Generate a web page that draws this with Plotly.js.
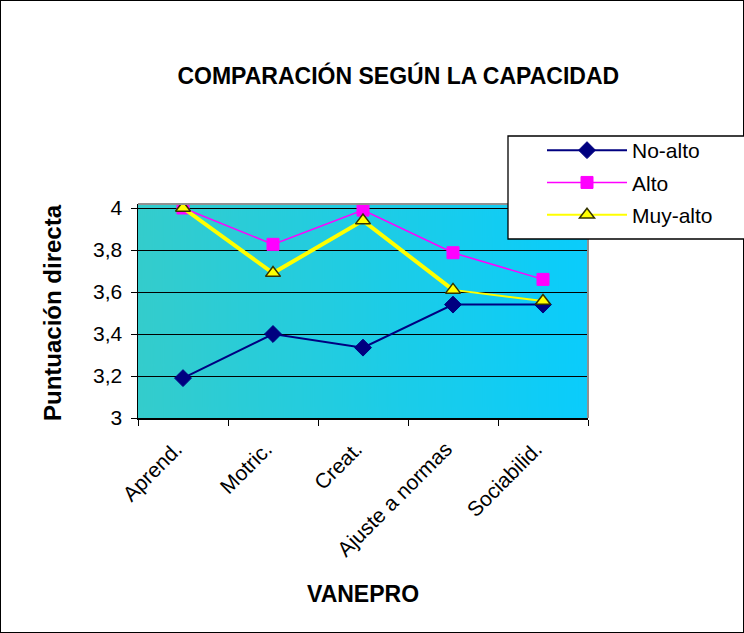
<!DOCTYPE html>
<html>
<head>
<meta charset="utf-8">
<script src="https://cdn.plot.ly/plotly-3.0.1.min.js"></script>
<style>
html,body{margin:0;padding:0;background:#fff;}
#chart{width:744px;height:633px;box-sizing:border-box;border:1px solid #000;}
</style>
</head>
<body>
<div id="chart"></div>
<script>
var categories = ["Aprend.", "Motric.", "Creat.", "Ajuste a normas", "Sociabilid."];
var noAlto   = [3.19, 3.40, 3.335, 3.54, 3.54];
var alto     = [4.00, 3.827, 3.99, 3.787, 3.66];
var muyAlto  = [4.00, 3.69, 3.94, 3.61, 3.557];
var yTickVals = [3, 3.2, 3.4, 3.6, 3.8, 4];
var yTickText = ["3", "3,2", "3,4", "3,6", "3,8", "4"];

// gradient background for plot area
function gradient() {
  var c = document.createElement("canvas");
  c.width = 450; c.height = 10;
  var g = c.getContext("2d");
  var gr = g.createLinearGradient(0, 0, 450, 0);
  gr.addColorStop(0, "rgb(52,204,204)");
  gr.addColorStop(1, "rgb(10,204,252)");
  g.fillStyle = gr;
  g.fillRect(0, 0, 450, 10);
  return c.toDataURL();
}

var FONT = "Liberation Sans, Arial, sans-serif";

var traces = [
  {x: categories, y: noAlto, name: "No-alto", type: "scatter", mode: "lines+markers", legendgroup: "a",
   line: {color: "#000080", width: 2},
   marker: {symbol: "diamond", size: 13, color: "#000080", line: {color: "#000080", width: 1}}},
  {x: categories, y: alto, name: "Alto", type: "scatter", mode: "lines+markers", legendgroup: "b",
   line: {color: "#FF00FF", width: 1.5},
   marker: {symbol: "square", size: 12, color: "#FF00FF", line: {color: "#FF00FF", width: 1}}},
  {x: categories.slice(0, 4), y: muyAlto.slice(0, 4), name: "Muy-alto", type: "scatter", mode: "lines",
   showlegend: false, hoverinfo: "skip", legendgroup: "c",
   line: {color: "#FFFF00", width: 4}},
  {x: categories, y: muyAlto, name: "Muy-alto", type: "scatter", mode: "lines+markers", legendgroup: "c",
   line: {color: "#FFFF00", width: 2},
   marker: {symbol: "triangle-up", size: 13, color: "#FFFF00", line: {color: "#333300", width: 1.5}}}
];

var layout = {
  width: 744, height: 633,
  margin: {l: 137, r: 157, t: 203, b: 216, autoexpand: false},
  paper_bgcolor: "rgba(0,0,0,0)",
  plot_bgcolor: "rgba(0,0,0,0)",
  font: {family: FONT, color: "#000"},
  title: {text: "<b>COMPARACIÓN SEGÚN LA CAPACIDAD</b>", font: {family: FONT, size: 23, color: "#000"},
          x: 0.534, xref: "container", xanchor: "center", y: 1 - 75/633, yref: "container", yanchor: "middle"},
  xaxis: {type: "category", tickson: "boundaries", ticks: "outside", ticklen: 6, tickcolor: "#000",
          tickangle: -45, tickfont: {family: FONT, size: 21, color: "#000"}, ticklabelstandoff: 9,
          ticklabelshift: -7,
          showline: true, linecolor: "#000", linewidth: 1.5, showgrid: false, zeroline: false,
          range: [-0.5, 4.5], fixedrange: true},
  yaxis: {range: [3, 3 + 214/210], tickvals: yTickVals, ticktext: yTickText, ticks: "outside",
          ticklen: 6, tickcolor: "#000", tickfont: {family: FONT, size: 21, color: "#000"}, ticklabelstandoff: 4,
          showline: true, linecolor: "#000", linewidth: 1.5, showgrid: true, gridcolor: "#000",
          gridwidth: 1, zeroline: false, fixedrange: true},
  images: [{source: gradient(), xref: "paper", yref: "paper", x: 0, y: 1, sizex: 1, sizey: 1,
            sizing: "stretch", layer: "below", xanchor: "left", yanchor: "top"}],
  shapes: [
    {type: "line", xref: "paper", yref: "paper", x0: 0, x1: 1, y0: 1, y1: 1, line: {color: "#909090", width: 2}},
    {type: "line", xref: "paper", yref: "paper", x0: 1, x1: 1, y0: 0, y1: 1, line: {color: "#909090", width: 2}},
    {type: "rect", xref: "paper", yref: "paper", x0: (507-137)/450, x1: (760-137)/450,
     y0: (417-238)/214, y1: (417-135)/214, fillcolor: "#fff", line: {color: "#000", width: 1.3}, layer: "above"}
  ],
  annotations: [
    {text: "<b>VANEPRO</b>", xref: "paper", yref: "paper", x: 0.5, y: (417-593)/214,
     xanchor: "center", yanchor: "middle", showarrow: false, font: {family: FONT, size: 23, color: "#000"}},
    {text: "<b>Puntuación directa</b>", xref: "paper", yref: "paper", x: (51-137)/450, y: (417-312)/214,
     xanchor: "center", yanchor: "middle", textangle: -90, showarrow: false, font: {family: FONT, size: 24, color: "#000"}}
  ],
  showlegend: true,
  legend: {x: (541-137)/450, y: (417-129)/214, xanchor: "left", yanchor: "top", xref: "paper", yref: "paper",
           bgcolor: "rgba(0,0,0,0)", borderwidth: 0, itemwidth: 80, traceorder: "grouped", tracegroupgap: 2,
           font: {family: FONT, size: 21, color: "#000"}},
  hovermode: false
};

Plotly.newPlot("chart", traces, layout, {displayModeBar: false, staticPlot: true});
</script>
</body>
</html>
